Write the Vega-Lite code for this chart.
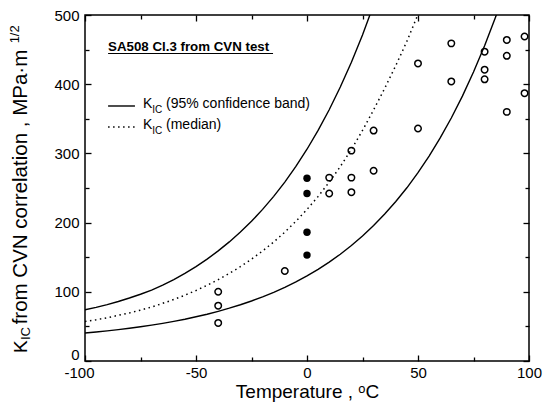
{
  "$schema": "https://vega.github.io/schema/vega-lite/v6.json",
  "width": 444,
  "height": 346,
  "autosize": {"type": "none"},
  "padding": {"left": 85, "top": 15, "right": 17, "bottom": 56},
  "background": "white",
  "config": {"view": {"stroke": "black", "strokeWidth": 1.5}, "font": "Liberation Sans"},
  "datasets": {
    "curves": [
      {"T": -100, "K": 74, "band": "upper"}, {"T": -95, "K": 77.5, "band": "upper"}, {"T": -90, "K": 81.5, "band": "upper"}, {"T": -85, "K": 86, "band": "upper"}, {"T": -80, "K": 91, "band": "upper"}, {"T": -75, "K": 96.5, "band": "upper"}, {"T": -70, "K": 102.5, "band": "upper"}, {"T": -65, "K": 109.5, "band": "upper"}, {"T": -60, "K": 117.6, "band": "upper"}, {"T": -55, "K": 126.6, "band": "upper"}, {"T": -50, "K": 136.4, "band": "upper"}, {"T": -45, "K": 147.2, "band": "upper"}, {"T": -40, "K": 159.1, "band": "upper"}, {"T": -35, "K": 172.1, "band": "upper"}, {"T": -30, "K": 186.3, "band": "upper"}, {"T": -25, "K": 201.9, "band": "upper"}, {"T": -20, "K": 219.1, "band": "upper"}, {"T": -15, "K": 237.9, "band": "upper"}, {"T": -10, "K": 258.5, "band": "upper"}, {"T": -5, "K": 281.2, "band": "upper"}, {"T": 0, "K": 306, "band": "upper"}, {"T": 5, "K": 333.2, "band": "upper"}, {"T": 10, "K": 363.1, "band": "upper"}, {"T": 15, "K": 395.9, "band": "upper"}, {"T": 20, "K": 431.8, "band": "upper"}, {"T": 25, "K": 471.2, "band": "upper"}, {"T": 30, "K": 514.5, "band": "upper"},
      {"T": -100, "K": 57, "band": "median"}, {"T": -95, "K": 59.5, "band": "median"}, {"T": -90, "K": 62.5, "band": "median"}, {"T": -85, "K": 66, "band": "median"}, {"T": -80, "K": 69.5, "band": "median"}, {"T": -75, "K": 73.5, "band": "median"}, {"T": -70, "K": 78, "band": "median"}, {"T": -65, "K": 83.3, "band": "median"}, {"T": -60, "K": 88.9, "band": "median"}, {"T": -55, "K": 95.1, "band": "median"}, {"T": -50, "K": 101.9, "band": "median"}, {"T": -45, "K": 109.4, "band": "median"}, {"T": -40, "K": 117.6, "band": "median"}, {"T": -35, "K": 126.5, "band": "median"}, {"T": -30, "K": 136.4, "band": "median"}, {"T": -25, "K": 147.2, "band": "median"}, {"T": -20, "K": 159, "band": "median"}, {"T": -15, "K": 172, "band": "median"}, {"T": -10, "K": 186.2, "band": "median"}, {"T": -5, "K": 201.9, "band": "median"}, {"T": 0, "K": 219, "band": "median"}, {"T": 5, "K": 237.8, "band": "median"}, {"T": 10, "K": 258.4, "band": "median"}, {"T": 15, "K": 281, "band": "median"}, {"T": 20, "K": 305.9, "band": "median"}, {"T": 25, "K": 333.1, "band": "median"}, {"T": 30, "K": 362.9, "band": "median"}, {"T": 35, "K": 394, "band": "median"}, {"T": 40, "K": 427, "band": "median"}, {"T": 45, "K": 462, "band": "median"}, {"T": 50, "K": 501, "band": "median"},
      {"T": -100, "K": 40.4, "band": "lower"}, {"T": -95, "K": 41.9, "band": "lower"}, {"T": -90, "K": 43.5, "band": "lower"}, {"T": -85, "K": 45.3, "band": "lower"}, {"T": -80, "K": 47.3, "band": "lower"}, {"T": -75, "K": 49.5, "band": "lower"}, {"T": -70, "K": 51.8, "band": "lower"}, {"T": -65, "K": 54.4, "band": "lower"}, {"T": -60, "K": 57.3, "band": "lower"}, {"T": -55, "K": 60.4, "band": "lower"}, {"T": -50, "K": 63.9, "band": "lower"}, {"T": -45, "K": 67.6, "band": "lower"}, {"T": -40, "K": 71.8, "band": "lower"}, {"T": -35, "K": 76.3, "band": "lower"}, {"T": -30, "K": 81.3, "band": "lower"}, {"T": -25, "K": 86.7, "band": "lower"}, {"T": -20, "K": 92.7, "band": "lower"}, {"T": -15, "K": 99.3, "band": "lower"}, {"T": -10, "K": 106.4, "band": "lower"}, {"T": -5, "K": 114.3, "band": "lower"}, {"T": 0, "K": 123, "band": "lower"}, {"T": 5, "K": 132.5, "band": "lower"}, {"T": 10, "K": 142.9, "band": "lower"}, {"T": 15, "K": 154.3, "band": "lower"}, {"T": 20, "K": 166.9, "band": "lower"}, {"T": 25, "K": 180.6, "band": "lower"}, {"T": 30, "K": 195.7, "band": "lower"}, {"T": 35, "K": 212.3, "band": "lower"}, {"T": 40, "K": 230.4, "band": "lower"}, {"T": 45, "K": 250.3, "band": "lower"}, {"T": 50, "K": 272.1, "band": "lower"}, {"T": 55, "K": 296.1, "band": "lower"}, {"T": 60, "K": 322.4, "band": "lower"}, {"T": 65, "K": 351.2, "band": "lower"}, {"T": 70, "K": 382.8, "band": "lower"}, {"T": 75, "K": 417.5, "band": "lower"}, {"T": 80, "K": 455.5, "band": "lower"}, {"T": 85, "K": 497.3, "band": "lower"}, {"T": 90, "K": 543, "band": "lower"}
    ],
    "points": [
      {"T": -40, "K": 100, "type": "open"}, {"T": -40, "K": 80, "type": "open"}, {"T": -40, "K": 55, "type": "open"},
      {"T": -10, "K": 130, "type": "open"},
      {"T": 10, "K": 265, "type": "open"}, {"T": 10, "K": 242, "type": "open"},
      {"T": 20, "K": 304, "type": "open"}, {"T": 20, "K": 265, "type": "open"}, {"T": 20, "K": 244, "type": "open"},
      {"T": 30, "K": 333, "type": "open"}, {"T": 30, "K": 275, "type": "open"},
      {"T": 50, "K": 430, "type": "open"}, {"T": 50, "K": 336, "type": "open"},
      {"T": 65, "K": 459, "type": "open"}, {"T": 65, "K": 404, "type": "open"},
      {"T": 80, "K": 447, "type": "open"}, {"T": 80, "K": 421, "type": "open"}, {"T": 80, "K": 407, "type": "open"},
      {"T": 90, "K": 464, "type": "open"}, {"T": 90, "K": 441, "type": "open"}, {"T": 90, "K": 360, "type": "open"},
      {"T": 98, "K": 469, "type": "open"}, {"T": 98, "K": 387, "type": "open"},
      {"T": 0, "K": 264, "type": "filled"}, {"T": 0, "K": 242, "type": "filled"}, {"T": 0, "K": 186, "type": "filled"}, {"T": 0, "K": 153, "type": "filled"}
    ]
  },
  "layer": [
    {
      "data": {"name": "curves"},
      "transform": [{"filter": "datum.band !== 'median'"}],
      "mark": {"type": "line", "color": "black", "strokeWidth": 1.4, "clip": true},
      "encoding": {
        "x": {"field": "T", "type": "quantitative", "scale": {"domain": [-100, 100], "nice": false, "zero": false},
          "axis": {"orient": "bottom", "values": [-100, -75, -50, -25, 0, 25, 50, 75, 100], "domain": false, "grid": false, "tickColor": "black", "tickWidth": 1.3,
            "tickSize": {"condition": {"test": "datum.value % 50 === 0", "value": -6}, "value": -4},
            "labelExpr": "datum.value % 50 === 0 ? '' + datum.value : ''", "labelFont": "Liberation Sans", "labelFontSize": 15, "labelColor": "black", "labelPadding": 10, "labelFlush": false, "labelOverlap": false,
            "labelOffset": {"condition": {"test": "datum.value === -100", "value": -6}, "value": 0},
            "title": "Temperature ,  ᵒC", "titleFont": "Liberation Sans", "titleFontSize": 19, "titleFontWeight": "normal", "titleColor": "black", "titlePadding": 0}},
        "y": {"field": "K", "type": "quantitative", "scale": {"domain": [0, 500], "nice": false, "zero": false},
          "axis": {"orient": "left", "values": [0, 50, 100, 150, 200, 250, 300, 350, 400, 450, 500], "domain": false, "grid": false, "tickColor": "black", "tickWidth": 1.3,
            "tickSize": {"condition": {"test": "datum.value % 100 === 0", "value": -6}, "value": -4},
            "labelExpr": "datum.value % 100 === 0 ? datum.label : ''", "labelFont": "Liberation Sans", "labelFontSize": 15, "labelColor": "black", "labelPadding": 12, "labelOverlap": false,
            "labelOffset": {"condition": {"test": "datum.value === 0", "value": -7}, "value": 0}, "title": null}},
        "detail": {"field": "band"}
      }
    },
    {
      "data": {"name": "curves"},
      "transform": [{"filter": "datum.band === 'median'"}],
      "mark": {"type": "line", "color": "black", "strokeWidth": 1.5, "strokeDash": [1.5, 3.5], "clip": true},
      "encoding": {
        "x": {"field": "T", "type": "quantitative", "axis": null},
        "y": {"field": "K", "type": "quantitative", "axis": null}
      }
    },
    {
      "data": {"name": "points"},
      "transform": [{"filter": "datum.type === 'open'"}],
      "mark": {"type": "point", "shape": "circle", "filled": false, "color": "black", "strokeWidth": 1.5, "size": 42, "opacity": 1},
      "encoding": {
        "x": {"field": "T", "type": "quantitative",
          "axis": {"orient": "top", "values": [-100, -75, -50, -25, 0, 25, 50, 75, 100], "domain": false, "grid": false, "labels": false, "title": null, "tickColor": "black", "tickWidth": 1.3,
            "tickSize": {"condition": {"test": "datum.value % 50 === 0", "value": -6}, "value": -4}}},
        "y": {"field": "K", "type": "quantitative",
          "axis": {"orient": "right", "values": [0, 50, 100, 150, 200, 250, 300, 350, 400, 450, 500], "domain": false, "grid": false, "labels": false, "title": null, "tickColor": "black", "tickWidth": 1.3,
            "tickSize": {"condition": {"test": "datum.value % 100 === 0", "value": -6}, "value": -4}}}
      }
    },
    {
      "data": {"name": "points"},
      "transform": [{"filter": "datum.type === 'filled'"}],
      "mark": {"type": "circle", "color": "black", "size": 55, "opacity": 1},
      "encoding": {
        "x": {"field": "T", "type": "quantitative", "axis": null},
        "y": {"field": "K", "type": "quantitative", "axis": null}
      }
    },
    {
      "data": {"values": [{}]},
      "mark": {"type": "text", "text": "SA508 Cl.3 from CVN test", "align": "left", "baseline": "alphabetic", "fontSize": 13.3, "fontWeight": "bold", "font": "Liberation Sans", "color": "black"},
      "encoding": {"x": {"datum": -89.6, "type": "quantitative", "axis": null}, "y": {"datum": 448, "type": "quantitative", "axis": null}}
    },
    {
      "data": {"values": [{}]},
      "mark": {"type": "rule", "color": "black", "strokeWidth": 1.2},
      "encoding": {"x": {"datum": -89.6, "type": "quantitative", "axis": null}, "x2": {"datum": -15.3}, "y": {"datum": 444.4, "type": "quantitative", "axis": null}}
    },
    {
      "data": {"values": [{}]},
      "mark": {"type": "rule", "color": "black", "strokeWidth": 1.4},
      "encoding": {"x": {"datum": -89.6, "type": "quantitative", "axis": null}, "x2": {"datum": -77.5}, "y": {"datum": 368.5, "type": "quantitative", "axis": null}}
    },
    {
      "data": {"values": [{}]},
      "mark": {"type": "rule", "color": "black", "strokeWidth": 1.5, "strokeDash": [1.5, 3.5]},
      "encoding": {"x": {"datum": -89.6, "type": "quantitative", "axis": null}, "x2": {"datum": -77.5}, "y": {"datum": 338.2, "type": "quantitative", "axis": null}}
    },
    {
      "data": {"values": [{}]},
      "mark": {"type": "text", "text": "K", "align": "left", "baseline": "middle", "fontSize": 14, "font": "Liberation Sans", "color": "black"},
      "encoding": {"x": {"datum": -73.9, "type": "quantitative", "axis": null}, "y": {"datum": 371.4, "type": "quantitative", "axis": null}}
    },
    {
      "data": {"values": [{}]},
      "mark": {"type": "text", "text": "IC", "align": "left", "baseline": "middle", "fontSize": 10, "font": "Liberation Sans", "color": "black"},
      "encoding": {"x": {"datum": -69.7, "type": "quantitative", "axis": null}, "y": {"datum": 362.7, "type": "quantitative", "axis": null}}
    },
    {
      "data": {"values": [{}]},
      "mark": {"type": "text", "text": "(95% confidence band)", "align": "left", "baseline": "middle", "fontSize": 14, "font": "Liberation Sans", "color": "black"},
      "encoding": {"x": {"datum": -63.5, "type": "quantitative", "axis": null}, "y": {"datum": 371.4, "type": "quantitative", "axis": null}}
    },
    {
      "data": {"values": [{}]},
      "mark": {"type": "text", "text": "K", "align": "left", "baseline": "middle", "fontSize": 14, "font": "Liberation Sans", "color": "black"},
      "encoding": {"x": {"datum": -73.9, "type": "quantitative", "axis": null}, "y": {"datum": 341, "type": "quantitative", "axis": null}}
    },
    {
      "data": {"values": [{}]},
      "mark": {"type": "text", "text": "IC", "align": "left", "baseline": "middle", "fontSize": 10, "font": "Liberation Sans", "color": "black"},
      "encoding": {"x": {"datum": -69.7, "type": "quantitative", "axis": null}, "y": {"datum": 332.4, "type": "quantitative", "axis": null}}
    },
    {
      "data": {"values": [{}]},
      "mark": {"type": "text", "text": "(median)", "align": "left", "baseline": "middle", "fontSize": 14, "font": "Liberation Sans", "color": "black"},
      "encoding": {"x": {"datum": -63.5, "type": "quantitative", "axis": null}, "y": {"datum": 341, "type": "quantitative", "axis": null}}
    },
    {
      "data": {"values": [{}]},
      "mark": {"type": "text", "text": "K", "align": "left", "baseline": "middle", "angle": 270, "fontSize": 19, "font": "Liberation Sans", "color": "black"},
      "encoding": {"x": {"datum": -128.8, "type": "quantitative", "axis": null}, "y": {"datum": 11.6, "type": "quantitative", "axis": null}}
    },
    {
      "data": {"values": [{}]},
      "mark": {"type": "text", "text": "IC", "align": "left", "baseline": "middle", "angle": 270, "fontSize": 13, "font": "Liberation Sans", "color": "black"},
      "encoding": {"x": {"datum": -126.4, "type": "quantitative", "axis": null}, "y": {"datum": 30.3, "type": "quantitative", "axis": null}}
    },
    {
      "data": {"values": [{}]},
      "mark": {"type": "text", "text": " from CVN correlation , MPa·m", "align": "left", "baseline": "middle", "angle": 270, "fontSize": 20.5, "font": "Liberation Sans", "color": "black"},
      "encoding": {"x": {"datum": -128.8, "type": "quantitative", "axis": null}, "y": {"datum": 53, "type": "quantitative", "axis": null}}
    },
    {
      "data": {"values": [{}]},
      "mark": {"type": "text", "text": "1/2", "align": "left", "baseline": "middle", "angle": 270, "fontSize": 13, "font": "Liberation Sans", "color": "black"},
      "encoding": {"x": {"datum": -131.5, "type": "quantitative", "axis": null}, "y": {"datum": 459, "type": "quantitative", "axis": null}}
    }
  ],
  "resolve": {"axis": {"x": "independent", "y": "independent"}}
}
